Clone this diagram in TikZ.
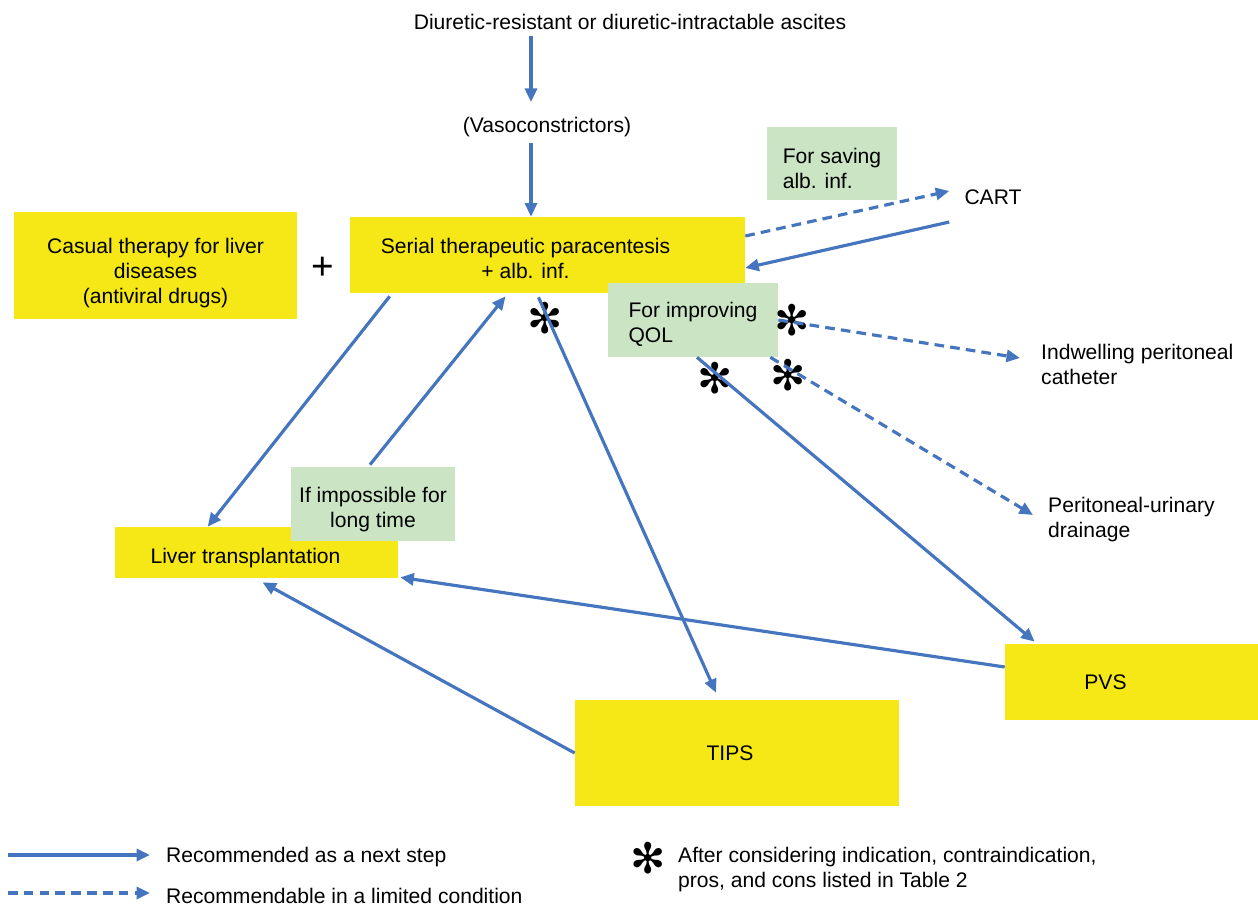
\documentclass[tikz,border=0pt]{standalone}
\usepackage{fontspec}
\setmainfont{Liberation Sans}
\newfontfamily\astfont{DejaVu Sans}
\usetikzlibrary{arrows.meta,calc}
\definecolor{boxyellow}{RGB}{245,232,22}
\definecolor{boxgreen}{RGB}{202,228,196}
\definecolor{arrowblue}{RGB}{68,117,190}

\begin{document}
\begin{tikzpicture}[x=0.02cm,y=-0.02cm,font=\fontsize{12}{14.2}\selectfont,
  ybox/.style={fill=boxyellow,inner sep=0pt},
  gbox/.style={fill=boxgreen,inner sep=0pt},
  plain/.style={align=left},
  rec/.style={draw=arrowblue,line width=1.8pt,-{Triangle[length=0.27cm,width=0.24cm]}},
  lim/.style={rec,dash pattern=on 5.5pt off 3.5pt},
  ast/.style={font=\astfont\fontsize{24}{24}\selectfont,inner sep=0pt}]
\useasboundingbox (0,0) rectangle (1258,909);
\node (title) at (630,22) {Diuretic-resistant or diuretic-intractable ascites};
\node (vaso) at (547,127) {(Vasoconstrictors)};
\node[ybox,minimum width=5.66cm,minimum height=2.14cm,
  label={[align=center,yshift=-0.15cm]center:Casual therapy for liver\\diseases\\(antiviral drugs)}] (casual) at (155.5,265.5) {};
\node[font=\fontsize{22}{22}\selectfont] (plus) at (323,268) {+};
\node[ybox,minimum width=7.9cm,minimum height=1.52cm,
  label={[align=center,xshift=-0.44cm,yshift=-0.06cm]center:Serial therapeutic paracentesis\\+ alb. inf.}] (serial) at (547.5,255) {};
\node[gbox,minimum width=2.6cm,minimum height=1.46cm,
  label={[align=left,yshift=-0.1cm]center:For saving\\alb. inf.}] (saving) at (832,163.5) {};
\node (cart) at (993,197) {CART};
\node[gbox,minimum width=3.4cm,minimum height=1.48cm,
  label={[align=left,yshift=-0.08cm]center:For improving\\QOL}] (qol) at (693,320) {};
\node[plain,anchor=west] (indwell) at (1035,364) {Indwelling peritoneal\\catheter};
\node[plain,anchor=west] (uri) at (1042,520) {Peritoneal-urinary\\drainage};
\node[ybox,minimum width=5.66cm,minimum height=1.02cm,
  label={[xshift=-0.22cm,yshift=-0.12cm]center:Liver transplantation}] (liver) at (256.5,552.5) {};
\node[gbox,minimum width=3.28cm,minimum height=1.48cm,
  label={[align=center,yshift=-0.12cm]center:If impossible for\\long time}] (imposs) at (373,504) {};
\node[ybox,minimum width=6.48cm,minimum height=2.12cm,
  label={[xshift=-0.14cm]center:TIPS}] (tips) at (737,753) {};
\node[ybox,minimum width=5.06cm,minimum height=1.52cm,
  label={[xshift=-0.52cm]center:PVS}] (pvs) at (1131.5,682) {};
\foreach \x/\y/\n in {545/318/astT, 792/320/astI, 715/378/astP, 788/375/astU, 648/858/astL}
  \node[ast] (\n) at (\x,\y) {✻};
\coordinate (axis) at (531,0);
\draw[rec,shorten >=0.18cm] (title.south -| axis) -- (vaso.north -| axis);
\draw[rec] (vaso.south -| axis) -- (serial.north -| axis);
\draw[lim] ($(serial.east)+(0,-19)$) -- ($(cart.west)+(-9,-6)$);
\draw[rec] ($(cart.west)+(-9,25)$) -- ($(serial.east)+(0,13)$);
\draw[lim] (qol.east) -- ($(indwell.west)+(-15,-6)$);
\draw[lim] ($(qol.south east)+(-8,0)$) -- ($(uri.west)+(-9,-5)$);
\draw[rec] ($(qol.south)+(4,0)$) -- ($(pvs.north west)+(30,-2)$);
\draw[rec] ($(serial.south)+(-9,4)$) -- ($(tips.north)+(-21,-7)$);
\draw[rec] ($(serial.south west)+(40,3)$) -- ($(liver.north west)+(93,0)$);
\draw[rec] ($(imposs.north)+(-3,-2)$) -- ($(serial.south)+(-42,3)$);
\draw[rec] (tips.west) -- ($(liver.south)+(6,4)$);
\draw[rec] ($(pvs.west)+(0,-15)$) -- ($(liver.south east)+(2,-1)$);
\coordinate (l1) at (8,855);
\coordinate (l2) at (8,893);
\node[anchor=west] (recnext) at (160,857) {Recommended as a next step};
\node[anchor=west] (reclim) at (160,896) {Recommendable in a limited condition};
\node[plain,anchor=west] (note) at (672,869.5) {After considering indication, contraindication,\\pros, and cons listed in Table 2};
\draw[rec] (l1) -- ($(l1 -| recnext.west)+(-10,0)$);
\draw[lim] (l2) -- ($(l2 -| recnext.west)+(-10,0)$);
\end{tikzpicture}
\end{document}
